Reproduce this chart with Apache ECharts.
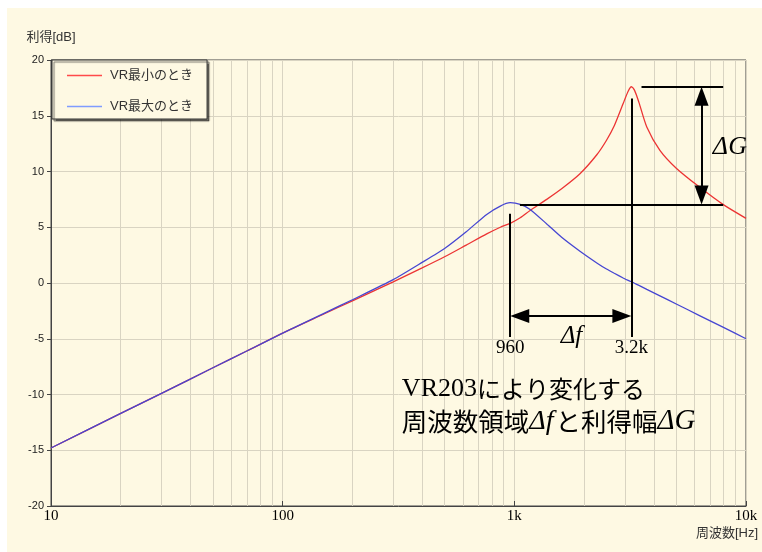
<!DOCTYPE html>
<html><head><meta charset="utf-8">
<script src="https://cdn.jsdelivr.net/npm/echarts@6/dist/echarts.min.js"></script>
<style>
html,body{margin:0;padding:0;background:#fff;width:762px;height:552px;overflow:hidden}
#c{position:absolute;left:7px;top:8px;width:755px;height:544px;background:#fef9e3}
</style>
</head><body><div id="c"></div>
<script>
// ---- data ----
const freqs      = [10, 20, 30, 50, 70, 100, 150, 200, 300, 400, 500, 620, 760, 870, 960, 1060, 1170, 1380, 1600, 1920, 2270, 2500, 2700, 2950, 3100, 3200, 3300, 3450, 3730, 4250, 5000, 6300, 7950, 10000];
const gainVRMin  = [-14.8, -11.7, -9.9, -7.6, -6.1, -4.5, -2.8, -1.6, 0.1, 1.35, 2.35, 3.4, 4.4, 5.0, 5.35, 5.85, 6.5, 7.5, 8.45, 9.8, 11.5, 12.8, 14.1, 16.1, 17.2, 17.6, 17.3, 16.2, 14.0, 11.9, 10.3, 8.6, 7.05, 5.8];
const gainVRMax  = [-14.8, -11.7, -9.9, -7.6, -6.1, -4.5, -2.75, -1.5, 0.3, 1.85, 3.1, 4.6, 6.15, 6.9, 7.2, 7.05, 6.6, 5.3, 4.1, 2.85, 1.8, 1.25, 0.87, 0.45, 0.23, 0.12, -0.02, -0.22, -0.57, -1.15, -1.88, -2.92, -3.96, -5.0];
const seriesNames = ['VR最小のとき', 'VR最大のとき'];
const xTickValues = [10, 100, 1000, 10000];
const xTickLabels = ['10', '100', '1k', '10k'];
const minorGridFreqs = [20,30,40,50,60,70,80,90,200,300,400,500,600,700,800,900,2000,3000,4000,5000,6000,7000,8000,9000];
// annotation values
const peakFreqs   = [960, 3200];
const peakLabels  = ['960', '3.2k'];
const peakGains   = [7.05, 17.6];   // ΔG reference levels
const deltaFLevel = -2.95;
const deltaGFreq  = 6430;
const levelLineStart = [1057, 3540];
const levelLineEnd   = 7970;

const cRed = '#ec3434', cBlue = '#4646d2', cGrid = '#d9d4c2', cAxis = '#444';

const chart = echarts.init(document.getElementById('c'), null, {renderer:'canvas'});

const tri = {symbol:'triangle', symbolSize:[14,19]};
const none = {symbol:'none'};

chart.setOption({
  animation:false,
  backgroundColor:'transparent',
  grid:{left:44, top:52, right:16, bottom:46, show:true, borderColor:cAxis, borderWidth:1, backgroundColor:'transparent'},
  legend:{
    left:45, top:52, orient:'vertical',
    data:[
      {name:seriesNames[0], itemStyle:{color:'#ff4a4a'}},
      {name:seriesNames[1], itemStyle:{color:'#7f9cff'}}
    ],
    icon:'rect',
    itemWidth:35, itemHeight:1.6, itemGap:18,
    padding:[9,14,6,15],
    backgroundColor:'#fef9e3', borderColor:'#333', borderWidth:1,
    shadowColor:'rgba(0,0,0,0.55)', shadowOffsetX:2, shadowOffsetY:2, shadowBlur:1,
    textStyle:{color:'#333', fontSize:13, fontFamily:'Liberation Sans, Noto Sans CJK JP', padding:[0,0,0,3]}
  },
  xAxis:{
    type:'log', logBase:10, min:10, max:10000,
    name:'周波数[Hz]', nameLocation:'end', nameGap:-19,
    nameTextStyle:{color:'#333', fontSize:13, fontFamily:'Liberation Sans, Noto Sans CJK JP', align:'center', verticalAlign:'top', padding:[21,0,0,0]},
    axisLine:{show:true, onZero:false, lineStyle:{color:cAxis, width:1}},
    axisTick:{show:true, inside:true, length:5, lineStyle:{color:cAxis}},
    axisLabel:{
      color:'#000', fontSize:15, fontFamily:'Liberation Serif', margin:3,
      formatter:v=>{const i=xTickValues.findIndex(t=>Math.abs(t-v)/t<1e-6); return i>=0?xTickLabels[i]:'';}
    },
    splitLine:{show:true, lineStyle:{color:cGrid, width:1}}
  },
  yAxis:{
    type:'value', min:-20, max:20, interval:5,
    name:'利得[dB]', nameLocation:'end', nameGap:16,
    nameTextStyle:{color:'#333', fontSize:13, fontFamily:'Liberation Sans, Noto Sans CJK JP'},
    axisLine:{show:true, lineStyle:{color:cAxis, width:1}},
    axisTick:{show:true, inside:false, length:4, lineStyle:{color:cAxis}},
    axisLabel:{color:'#222', fontSize:11, fontFamily:'Liberation Sans', margin:7},
    splitLine:{show:true, lineStyle:{color:cGrid, width:1}}
  },
  series:[
    {
      name:seriesNames[0], type:'line', symbol:'none', showSymbol:false, smooth:0.25, z:3,
      data:freqs.map((f,i)=>[f,gainVRMin[i]]),
      lineStyle:{color:cRed, width:1.3}, itemStyle:{color:cRed},
      markLine:{
        silent:true, z:1, animation:false, symbol:['none','none'],
        label:{show:false}, emphasis:{disabled:true},
        lineStyle:{color:cGrid, width:1, type:'solid'},
        data:minorGridFreqs.map(f=>({xAxis:f}))
      }
    },
    {
      name:seriesNames[1], type:'line', symbol:'none', showSymbol:false, smooth:0.2, z:4,
      data:freqs.map((f,i)=>[f,gainVRMax[i]]),
      lineStyle:{color:cBlue, width:1.3}, itemStyle:{color:cBlue},
      markLine:{
        silent:true, z:6, animation:false, symbol:['none','none'], symbolSize:[14,19],
        label:{show:false}, emphasis:{disabled:true},
        lineStyle:{color:'#000', width:2, type:'solid'},
        itemStyle:{color:'#000'},
        data:[
          [{coord:[peakFreqs[0], 6.2], ...none}, {coord:[peakFreqs[0], -4.85], ...none}],
          [{coord:[peakFreqs[1], 16.55], ...none}, {coord:[peakFreqs[1], -4.85], ...none}],
          [{coord:[levelLineStart[0], peakGains[0]], ...none}, {coord:[levelLineEnd, peakGains[0]], ...none}],
          [{coord:[levelLineStart[1], peakGains[1]], ...none}, {coord:[levelLineEnd, peakGains[1]], ...none}],
          [{coord:[deltaGFreq, peakGains[1]-0.85], ...tri}, {coord:[deltaGFreq, peakGains[0]+0.85], ...tri}],
          [{coord:[peakFreqs[0]*1.099, deltaFLevel], ...tri}, {coord:[peakFreqs[1]/1.099, deltaFLevel], ...tri}]
        ]
      },
      markPoint:{
        silent:true, z:7, animation:false, symbol:'rect', symbolSize:1,
        itemStyle:{color:'rgba(0,0,0,0)'},
        label:{show:true, position:'inside', color:'#000'},
        data:[
          {coord:[peakFreqs[0], -5.85], label:{formatter:peakLabels[0], fontFamily:'Liberation Serif', fontSize:19}},
          {coord:[peakFreqs[1], -5.85], label:{formatter:peakLabels[1], fontFamily:'Liberation Serif', fontSize:19}},
          {coord:[1764, -4.8], label:{formatter:'Δf', fontFamily:'Liberation Serif', fontStyle:'italic', fontSize:25}},
          {coord:[8520, 12.15], label:{formatter:'ΔG', fontFamily:'Liberation Serif', fontStyle:'italic', fontSize:26}},
          {coord:[327, -10.97], label:{
            align:'left', verticalAlign:'middle', lineHeight:32,
            formatter:'{a|VR203}{j|により変化する}\n{k|周波数領域}{i|Δf}{k|と利得幅}{g|ΔG}',
            rich:{
              a:{fontFamily:'Liberation Serif', fontSize:26, color:'#000', lineHeight:32},
              j:{fontFamily:'Noto Sans CJK JP', fontSize:24, color:'#000', lineHeight:32},
              k:{fontFamily:'Noto Sans CJK JP', fontSize:25.5, color:'#000', lineHeight:32},
              i:{fontFamily:'Liberation Serif', fontStyle:'italic', fontSize:28, color:'#000', lineHeight:32, padding:[0,2,0,0]},
              g:{fontFamily:'Liberation Serif', fontStyle:'italic', fontSize:29, color:'#000', lineHeight:32}
            }
          }}
        ]
      }
    }
  ]
});
</script>
</body></html>
